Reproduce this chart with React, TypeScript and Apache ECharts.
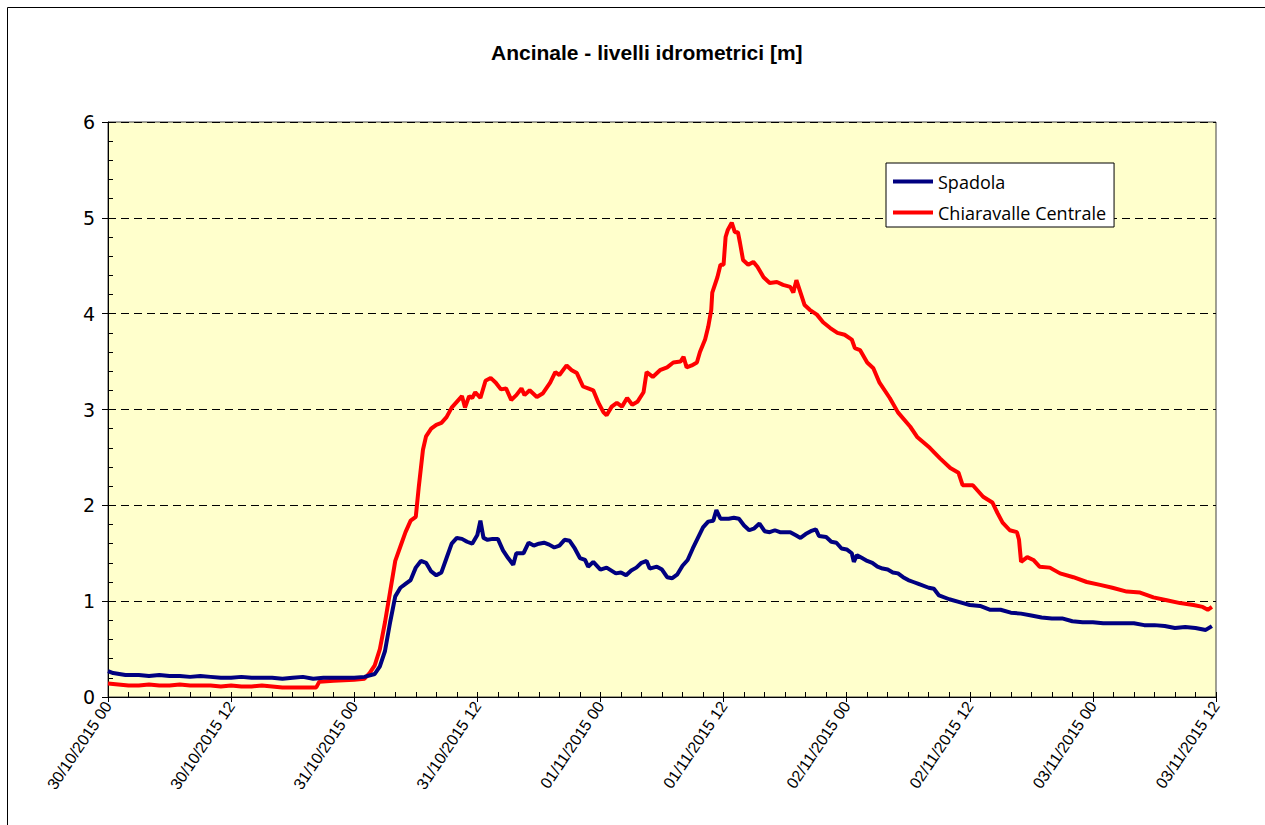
import React, { useEffect, useRef } from "react";
import * as echarts from "echarts";

const TITLE = "Ancinale - livelli idrometrici [m]";
const SERIES_NAMES = ["Spadola", "Chiaravalle Centrale"];
const X_TICK_LABELS = [
  "30/10/2015 00",
  "30/10/2015 12",
  "31/10/2015 00",
  "31/10/2015 12",
  "01/11/2015 00",
  "01/11/2015 12",
  "02/11/2015 00",
  "02/11/2015 12",
  "03/11/2015 00",
  "03/11/2015 12",
];
const Y_TICKS = [0, 1, 2, 3, 4, 5, 6];

// [hours since 30/10/2015 00:00, level m]
const spadola: number[][] = [
  [0, 0.27], [0.5, 0.25], [1.7, 0.23], [3, 0.23], [4, 0.22], [5, 0.23], [6, 0.22], [7, 0.22],
  [8, 0.21], [9, 0.22], [10, 0.21], [11, 0.2], [12, 0.2], [13, 0.21], [14, 0.2], [15, 0.2],
  [16, 0.2], [17, 0.19], [18, 0.2], [19, 0.21], [20, 0.19], [21, 0.2], [22, 0.2], [23, 0.2],
  [24, 0.2], [25, 0.21], [26, 0.24], [26.5, 0.32], [27, 0.48], [27.5, 0.78], [28, 1.05],
  [28.5, 1.14], [29, 1.18], [29.5, 1.22], [30, 1.35], [30.5, 1.42], [31, 1.4], [31.5, 1.31],
  [32, 1.27], [32.5, 1.3], [33, 1.45], [33.5, 1.6], [34, 1.66], [34.5, 1.65], [35, 1.62],
  [35.5, 1.6], [36, 1.69], [36.3, 1.84], [36.6, 1.66], [37, 1.64], [37.5, 1.65], [38, 1.65],
  [38.5, 1.53], [39, 1.45], [39.5, 1.38], [39.8, 1.5], [40.5, 1.5], [41, 1.61], [41.5, 1.58],
  [42, 1.6], [42.5, 1.61], [43, 1.59], [43.5, 1.56], [44, 1.58], [44.5, 1.64], [45, 1.63],
  [45.5, 1.55], [46, 1.45], [46.5, 1.43], [46.8, 1.36], [47.3, 1.41], [48, 1.33], [48.6, 1.35],
  [49.5, 1.29], [50, 1.3], [50.5, 1.27], [51, 1.32], [51.5, 1.35], [52, 1.4], [52.5, 1.42],
  [52.8, 1.34], [53.5, 1.36], [54, 1.33], [54.5, 1.25], [55, 1.24], [55.5, 1.28], [56, 1.37],
  [56.5, 1.43], [57, 1.55], [57.5, 1.66], [58, 1.77], [58.5, 1.83], [59, 1.84], [59.3, 1.95],
  [59.7, 1.86], [60.5, 1.86], [61, 1.87], [61.5, 1.86], [62, 1.79], [62.5, 1.74], [63, 1.76],
  [63.5, 1.81], [64, 1.73], [64.5, 1.72], [65, 1.74], [65.5, 1.72], [66, 1.72], [66.5, 1.72],
  [67, 1.69], [67.5, 1.66], [68, 1.7], [68.5, 1.73], [69, 1.75], [69.3, 1.68], [70, 1.67],
  [70.5, 1.62], [71, 1.61], [71.5, 1.55], [72, 1.54], [72.5, 1.5], [72.7, 1.41], [73, 1.48],
  [73.5, 1.45], [74, 1.42], [74.5, 1.4], [75, 1.36], [75.5, 1.34], [76, 1.33], [76.5, 1.3],
  [77, 1.29], [77.5, 1.25], [78, 1.22], [78.5, 1.2], [79, 1.18], [80, 1.14], [80.5, 1.13],
  [81, 1.06], [82, 1.02], [83, 0.99], [84, 0.96], [85, 0.95], [86, 0.91], [87, 0.91],
  [88, 0.88], [89, 0.87], [90, 0.85], [91, 0.83], [92, 0.82], [93, 0.82], [94, 0.79],
  [95, 0.78], [96, 0.78], [97, 0.77], [98, 0.77], [99, 0.77], [100, 0.77], [101, 0.75],
  [102, 0.75], [103, 0.74], [104, 0.72], [105, 0.73], [106, 0.72], [107, 0.7], [107.6, 0.74],
];

const chiaravalle: number[][] = [
  [0, 0.14], [1, 0.13], [2, 0.12], [3, 0.12], [4, 0.13], [5, 0.12], [6, 0.12], [7, 0.13],
  [8, 0.12], [9, 0.12], [10, 0.12], [11, 0.11], [12, 0.12], [13, 0.11], [14, 0.11], [15, 0.12],
  [16, 0.11], [17, 0.1], [18, 0.1], [19, 0.1], [20.3, 0.1], [20.6, 0.16], [22, 0.17],
  [24, 0.18], [25, 0.19], [25.5, 0.25], [26, 0.33], [26.5, 0.5], [27, 0.78], [27.5, 1.1],
  [28, 1.42], [28.5, 1.57], [29, 1.72], [29.5, 1.84], [30, 1.88], [30.3, 2.2], [30.7, 2.58],
  [31, 2.72], [31.5, 2.8], [32, 2.84], [32.5, 2.86], [33, 2.92], [33.5, 3.02], [34, 3.08],
  [34.5, 3.14], [34.8, 3.02], [35.2, 3.14], [35.5, 3.12], [35.8, 3.18], [36.3, 3.12],
  [36.8, 3.3], [37.3, 3.33], [37.8, 3.28], [38.3, 3.21], [38.8, 3.22], [39.3, 3.1],
  [39.8, 3.15], [40.3, 3.22], [40.6, 3.15], [41.1, 3.2], [41.8, 3.13], [42.4, 3.17],
  [43.1, 3.28], [43.6, 3.39], [44, 3.36], [44.7, 3.46], [45.2, 3.41], [45.7, 3.38],
  [46.3, 3.24], [46.8, 3.22], [47.3, 3.2], [47.8, 3.07], [48.3, 2.97], [48.6, 2.94],
  [49.1, 3.03], [49.6, 3.07], [50.1, 3.03], [50.6, 3.12], [51.1, 3.05], [51.6, 3.08],
  [52.2, 3.18], [52.5, 3.39], [53.1, 3.34], [53.8, 3.41], [54.5, 3.44], [55.1, 3.49],
  [55.8, 3.5], [56.1, 3.55], [56.4, 3.44], [56.9, 3.46], [57.4, 3.49], [57.7, 3.6],
  [58.2, 3.73], [58.5, 3.86], [58.8, 4.04], [58.9, 4.22], [59.4, 4.38], [59.7, 4.51],
  [60, 4.51], [60.2, 4.8], [60.4, 4.87], [60.8, 4.95], [61.1, 4.85], [61.4, 4.85],
  [61.6, 4.74], [61.9, 4.56], [62.4, 4.51], [62.9, 4.54], [63.3, 4.49], [63.9, 4.38],
  [64.5, 4.32], [65.2, 4.33], [65.8, 4.3], [66.5, 4.28], [66.8, 4.22], [67.1, 4.35],
  [67.5, 4.22], [67.9, 4.09], [68.4, 4.04], [69.1, 3.99], [69.7, 3.91], [70.4, 3.85],
  [71.1, 3.8], [71.8, 3.78], [72.5, 3.73], [72.8, 3.64], [73.3, 3.62], [74, 3.49],
  [74.6, 3.43], [75.2, 3.28], [76.2, 3.12], [77, 2.97], [78.2, 2.82], [78.9, 2.71],
  [80.1, 2.6], [81.1, 2.49], [82.1, 2.39], [82.9, 2.34], [83.3, 2.21], [84.3, 2.21],
  [85.3, 2.09], [86.2, 2.03], [86.7, 1.92], [87.2, 1.82], [87.9, 1.74], [88.6, 1.72],
  [88.8, 1.64], [89, 1.41], [89.6, 1.46], [90.2, 1.43], [90.8, 1.36], [91.8, 1.35],
  [92.8, 1.29], [94.1, 1.25], [95.4, 1.2], [96.7, 1.17], [97.9, 1.14], [99.3, 1.1],
  [100.6, 1.09], [101.9, 1.04], [103.2, 1.01], [104.5, 0.98], [105.8, 0.96], [106.7, 0.94],
  [107.2, 0.91], [107.6, 0.94],
];

const COLORS = ["#000080", "#FF0000"];

export default function App() {
  const ref = useRef<HTMLDivElement>(null);
  useEffect(() => {
    if (!ref.current) return;
    const chart = echarts.init(ref.current, undefined, { renderer: "svg" });
    const xMax = (X_TICK_LABELS.length - 1) * 12;
    const yMax = Y_TICKS[Y_TICKS.length - 1];
    const baseX = {
      type: "value" as const,
      min: 0,
      max: xMax,
      interval: 12,
    };
    const baseY = {
      type: "value" as const,
      min: 0,
      max: yMax,
      interval: 1,
    };
    chart.setOption({
      animation: false,
      backgroundColor: "#ffffff",
      title: {
        text: TITLE,
        left: 486,
        top: 37,
        textStyle: {
          fontFamily: "'Liberation Sans', sans-serif",
          fontWeight: "bold",
          fontSize: 21,
          color: "#000",
        },
      },
      legend: {
        orient: "vertical",
        left: 886,
        top: 163,
        padding: [8, 8, 4, 7],
        itemGap: 10,
        itemWidth: 40,
        itemHeight: 4,
        icon: "rect",
        backgroundColor: "#ffffff",
        borderColor: "#000",
        borderWidth: 1,
        textStyle: {
          fontFamily: "'Open Sans', sans-serif",
          fontSize: 18,
          color: "#000",
          lineHeight: 21,
        },
        data: SERIES_NAMES,
      },
      grid: {
        left: 108,
        top: 122,
        width: 1108,
        height: 575,
        show: true,
        backgroundColor: "#FFFFCC",
        borderColor: "#404040",
        borderWidth: 1,
      },
      xAxis: [
        {
          ...baseX,
          axisLine: { show: true, lineStyle: { color: "#000", width: 1 } },
          axisTick: { show: true, inside: true, length: 5, lineStyle: { color: "#000" } },
          minorTick: { show: true, splitNumber: 6, length: 5, lineStyle: { color: "#000" } },
          splitLine: { show: false },
          axisLabel: {
            rotate: 56,
            margin: 6,
            fontFamily: "'Liberation Sans', sans-serif",
            fontSize: 16,
            color: "#000",
            showMaxLabel: true,
            showMinLabel: true,
            formatter: (v: number) => X_TICK_LABELS[Math.round(v / 12)] ?? "",
          },
        },
        {
          ...baseX,
          position: "bottom",
          axisLine: { show: false },
          axisTick: { show: true, inside: false, length: 5, lineStyle: { color: "#000" } },
          axisLabel: { show: false },
          splitLine: { show: false },
        },
      ],
      yAxis: [
        {
          ...baseY,
          axisLine: { show: true, lineStyle: { color: "#000", width: 1 } },
          axisTick: { show: true, inside: true, length: 5, lineStyle: { color: "#000" } },
          minorTick: { show: true, splitNumber: 5, length: 5, lineStyle: { color: "#000" } },
          splitLine: {
            show: true,
            lineStyle: { color: "#000", type: [8, 5], width: 1 },
          },
          axisLabel: {
            margin: 13,
            fontFamily: "'DejaVu Sans', sans-serif",
            fontSize: 19,
            color: "#000",
            formatter: (v: number) => (Y_TICKS.includes(v) ? String(v) : ""),
          },
        },
        {
          ...baseY,
          position: "left",
          axisLine: { show: false },
          axisTick: { show: true, inside: false, length: 6, lineStyle: { color: "#000" } },
          axisLabel: { show: false },
          splitLine: { show: false },
        },
      ],
      graphic: [
        {
          type: "rect",
          silent: true,
          shape: { x: 7.5, y: 7.5, width: 1400, height: 1000 },
          style: { fill: "none", stroke: "#000", lineWidth: 1 },
          z: 100,
        },
      ],
      series: [
        {
          name: SERIES_NAMES[0],
          type: "line",
          data: spadola,
          showSymbol: false,
          symbol: "none",
          lineStyle: { color: COLORS[0], width: 4 },
          itemStyle: { color: COLORS[0] },
          z: 3,
        },
        {
          name: SERIES_NAMES[1],
          type: "line",
          data: chiaravalle,
          showSymbol: false,
          symbol: "none",
          lineStyle: { color: COLORS[1], width: 4 },
          itemStyle: { color: COLORS[1] },
          z: 2,
        },
      ],
    });
    return () => chart.dispose();
  }, []);
  return (
    <div
      ref={ref}
      style={{ position: "absolute", left: 0, top: 0, width: 1265, height: 825 }}
    />
  );
}
